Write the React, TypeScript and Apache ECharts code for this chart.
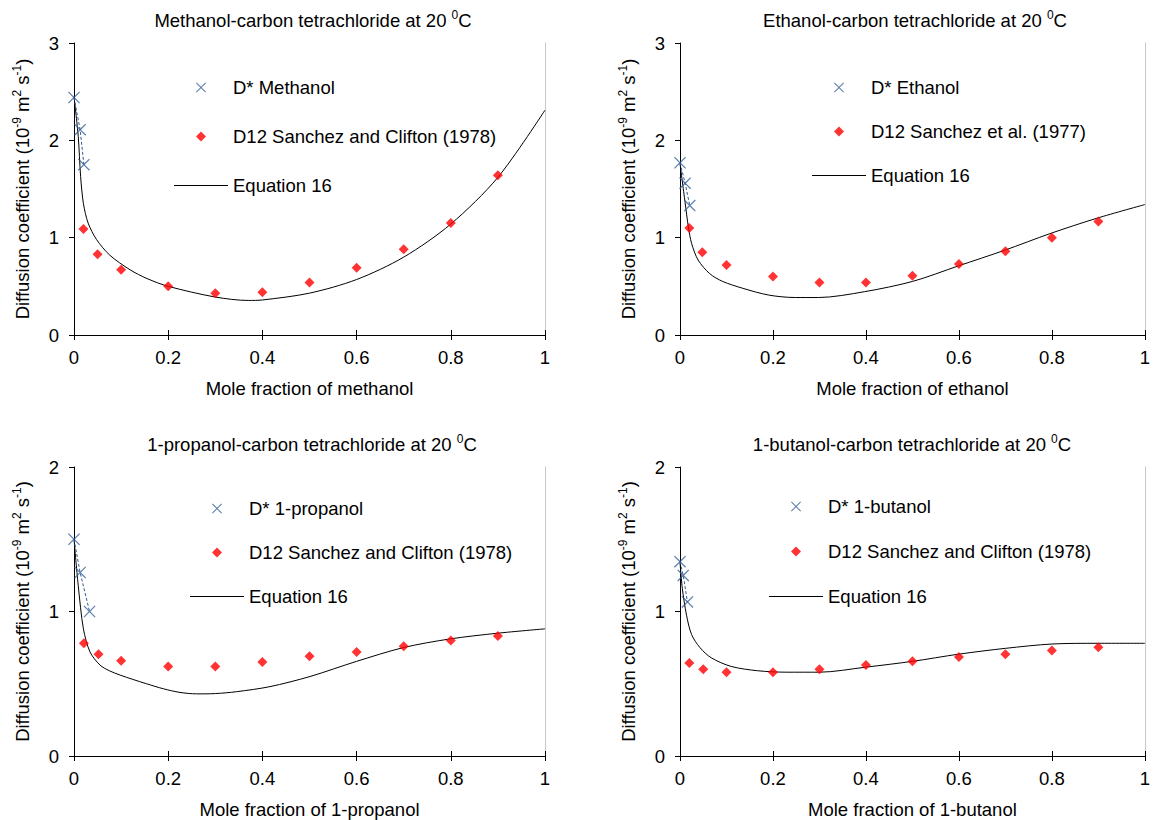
import React, { useEffect, useRef } from "react";
import * as echarts from "echarts";

// ---------- DATA ----------
const xTickValues = [0, 0.2, 0.4, 0.6, 0.8, 1];

// Methanol - CCl4
const methanolDStar = [[0, 2.44], [0.013, 2.11], [0.021, 1.75]];
const methanolD12 = [
  [0.02, 1.09], [0.05, 0.83], [0.1, 0.67], [0.2, 0.5], [0.3, 0.43], [0.4, 0.44],
  [0.5, 0.54], [0.6, 0.69], [0.7, 0.88], [0.8, 1.15], [0.9, 1.64],
];
const methanolEq16 = [
  [0, 2.45], [0.009, 2.04], [0.014, 1.63], [0.02, 1.35], [0.03, 1.15], [0.048, 0.98],
  [0.076, 0.82], [0.119, 0.67], [0.155, 0.58], [0.2, 0.5], [0.3, 0.39], [0.37, 0.355],
  [0.4, 0.36], [0.5, 0.43], [0.6, 0.57], [0.7, 0.8], [0.8, 1.14], [0.9, 1.62], [1, 2.31],
];

// Ethanol - CCl4
const ethanolDStar = [[0, 1.77], [0.011, 1.56], [0.021, 1.33]];
const ethanolD12 = [
  [0.02, 1.1], [0.048, 0.85], [0.1, 0.72], [0.2, 0.6], [0.3, 0.54], [0.4, 0.54],
  [0.5, 0.61], [0.6, 0.73], [0.7, 0.86], [0.8, 1.0], [0.9, 1.165],
];
const ethanolEq16 = [
  [0, 1.76], [0.011, 1.36], [0.018, 1.11], [0.025, 0.94], [0.039, 0.77], [0.064, 0.63],
  [0.092, 0.55], [0.135, 0.48], [0.191, 0.41], [0.248, 0.385], [0.298, 0.385],
  [0.397, 0.445], [0.5, 0.55], [0.599, 0.71], [0.698, 0.87], [0.798, 1.045],
  [0.897, 1.2], [1, 1.34],
];

// 1-propanol - CCl4
const propanolDStar = [[0, 1.5], [0.013, 1.27], [0.033, 1.0]];
const propanolD12 = [
  [0.021, 0.78], [0.052, 0.705], [0.1, 0.66], [0.2, 0.62], [0.3, 0.62], [0.4, 0.65],
  [0.5, 0.69], [0.6, 0.72], [0.7, 0.76], [0.8, 0.8], [0.9, 0.83],
];
const propanolEq16 = [
  [0, 1.5], [0.009, 1.18], [0.02, 0.88], [0.034, 0.72], [0.055, 0.63], [0.075, 0.59],
  [0.098, 0.56], [0.125, 0.53], [0.154, 0.5], [0.19, 0.465], [0.225, 0.44],
  [0.26, 0.43], [0.3, 0.432], [0.345, 0.445], [0.416, 0.48], [0.501, 0.55],
  [0.6, 0.655], [0.699, 0.75], [0.798, 0.81], [0.9, 0.85], [1, 0.88],
];

// 1-butanol - CCl4
const butanolDStar = [[0, 1.345], [0.007, 1.25], [0.016, 1.066]];
const butanolD12 = [
  [0.02, 0.644], [0.05, 0.6], [0.1, 0.58], [0.2, 0.58], [0.3, 0.6], [0.4, 0.63],
  [0.5, 0.655], [0.6, 0.685], [0.7, 0.705], [0.8, 0.73], [0.9, 0.753],
];
const butanolEq16 = [
  [0, 1.34], [0.005, 1.16], [0.014, 0.975], [0.025, 0.84], [0.043, 0.75], [0.067, 0.68],
  [0.11, 0.62], [0.167, 0.59], [0.23, 0.58], [0.3, 0.58], [0.4, 0.615], [0.5, 0.655],
  [0.6, 0.705], [0.7, 0.745], [0.8, 0.775], [0.9, 0.78], [1, 0.78],
];

const panelTitles = [
  "Methanol-carbon tetrachloride at 20 ",
  "Ethanol-carbon tetrachloride at 20 ",
  "1-propanol-carbon tetrachloride at 20 ",
  "1-butanol-carbon tetrachloride at 20 ",
];
const xAxisNames = [
  "Mole fraction of methanol",
  "Mole fraction of ethanol",
  "Mole fraction of 1-propanol",
  "Mole fraction of 1-butanol",
];
const dStarNames = ["D* Methanol", "D* Ethanol", "D* 1-propanol", "D* 1-butanol"];
const d12Names = [
  "D12 Sanchez and Clifton (1978)",
  "D12 Sanchez et al. (1977)",
  "D12 Sanchez and Clifton (1978)",
  "D12 Sanchez and Clifton (1978)",
];
const eqName = "Equation 16";
const yMaxValues = [3, 3, 2, 2];

const dStarData = [methanolDStar, ethanolDStar, propanolDStar, butanolDStar];
const d12Data = [methanolD12, ethanolD12, propanolD12, butanolD12];
const eqData = [methanolEq16, ethanolEq16, propanolEq16, butanolEq16];

// ---------- LAYOUT / STYLE ----------
const FONT = '"Liberation Sans", Arial, Helvetica, sans-serif';
const FS = 18.5;
const grids = [
  { left: 74, top: 43, width: 471, height: 292 },
  { left: 680, top: 43, width: 470, height: 292 },
  { left: 74, top: 467, width: 471, height: 292 },
  { left: 680, top: 467, width: 470, height: 292 },
];
const titlePos = [
  { cx: 313, top: 9 },
  { cx: 915, top: 9 },
  { cx: 312, top: 433 },
  { cx: 912, top: 433 },
];
const legendPos = [
  { left: 174, top: 78, gap: 30 },
  { left: 812, top: 78, gap: 25 },
  { left: 190, top: 499, gap: 25 },
  { left: 769, top: 497, gap: 26 },
];
const CROSS =
  "path://M0,7L7,0L50,43L93,0L100,7L57,50L100,93L93,100L50,57L7,100L0,93L43,50Z";
const DIAMOND_ICON = "path://M50,0L100,50L50,100L0,50Z";
const LINE_ICON = "path://M0,0L540,0L540,10L0,10Z";
const BLUE = "#2f5b95";
const RED = "#ff0000";

const richStyles = {
  a: { fontFamily: FONT, fontSize: FS, lineHeight: 22, color: "#000" },
  s: { fontFamily: FONT, fontSize: 12, lineHeight: 13, verticalAlign: "top", color: "#000" },
};

function buildOption() {
  const title: any[] = [];
  const xAxis: any[] = [];
  const yAxis: any[] = [];
  const series: any[] = [];
  const legend: any[] = [];

  for (let i = 0; i < 4; i++) {
    title.push({
      text: `{a|${panelTitles[i]}}{s|0}{a|C}`,
      left: titlePos[i].cx,
      top: titlePos[i].top,
      textAlign: "center",
      padding: 0,
      textStyle: {
        fontFamily: FONT,
        fontWeight: "normal",
        fontSize: FS,
        color: "#000",
        rich: richStyles,
      },
    });

    const common = { gridIndex: i, type: "value", min: 0, max: 1, interval: 0.2 };
    xAxis.push({
      ...common,
      name: xAxisNames[i],
      nameLocation: "middle",
      nameGap: 44,
      nameTextStyle: { fontFamily: FONT, fontSize: FS, color: "#000" },
      axisLine: { show: true, onZero: false, lineStyle: { color: "#000", width: 1 } },
      axisTick: { show: true, inside: false, length: 5, lineStyle: { color: "#000" } },
      axisLabel: {
        fontFamily: FONT, fontSize: FS, color: "#000", margin: 13,
        customValues: xTickValues,
        formatter: (v: number) => String(Math.round(v * 10) / 10),
      },
      splitLine: { show: false },
    });
    xAxis.push({
      ...common,
      position: "bottom",
      axisLine: { show: false, onZero: false },
      axisTick: { show: true, inside: true, length: 5, lineStyle: { color: "#000" } },
      axisLabel: { show: false },
      splitLine: { show: false },
    });

    yAxis.push({
      gridIndex: i,
      type: "value",
      min: 0,
      max: yMaxValues[i],
      interval: 1,
      position: "left",
      name: "{a|Diffusion coefficient (10}{s|-9}{a| m}{s|2}{a| s}{s|-1}{a|)}",
      nameLocation: "middle",
      nameGap: 41,
      nameTextStyle: {
        fontFamily: FONT,
        fontSize: FS,
        color: "#000",
        rich: richStyles,
      },
      axisLine: { show: true, onZero: false, lineStyle: { color: "#000", width: 1 } },
      axisTick: { show: true, inside: false, length: 5, lineStyle: { color: "#000" } },
      axisLabel: { fontFamily: FONT, fontSize: FS, color: "#000", margin: 15 },
      splitLine: { show: false },
    });
    yAxis.push({
      gridIndex: i,
      type: "value",
      min: 0,
      max: yMaxValues[i],
      interval: 1,
      position: "right",
      axisLine: { show: true, onZero: false, lineStyle: { color: "#c8c8c8", width: 1 } },
      axisTick: { show: false },
      axisLabel: { show: false },
      splitLine: { show: false },
    });

    const xi = 2 * i;
    const yi = 2 * i;
    series.push({
      type: "line",
      name: eqName,
      xAxisIndex: xi,
      yAxisIndex: yi,
      data: eqData[i],
      smooth: 0.3,
      symbol: "none",
      color: "#000",
      lineStyle: { color: "#000", width: 1 },
      z: 2,
    });
    series.push({
      type: "line",
      name: `link-${i}`,
      xAxisIndex: xi,
      yAxisIndex: yi,
      data: dStarData[i],
      symbol: "none",
      color: BLUE,
      lineStyle: { color: BLUE, width: 1, type: [3, 2] },
      z: 3,
    });
    series.push({
      type: "scatter",
      name: d12Names[i],
      xAxisIndex: xi,
      yAxisIndex: yi,
      data: d12Data[i],
      symbol: "diamond",
      symbolSize: 10,
      color: RED,
      itemStyle: { color: RED },
      z: 4,
    });
    series.push({
      type: "scatter",
      name: dStarNames[i],
      xAxisIndex: xi,
      yAxisIndex: yi,
      data: dStarData[i],
      symbol: CROSS,
      symbolSize: 12,
      color: BLUE,
      itemStyle: { color: BLUE },
      z: 5,
    });

    legend.push({
      orient: "vertical",
      left: legendPos[i].left,
      top: legendPos[i].top,
      padding: 0,
      itemGap: legendPos[i].gap,
      itemWidth: 54,
      itemHeight: 10,
      selectedMode: false,
      textStyle: { fontFamily: FONT, fontSize: FS, color: "#000" },
      data: [
        { name: dStarNames[i], icon: CROSS, itemStyle: { color: BLUE } },
        { name: d12Names[i], icon: DIAMOND_ICON, itemStyle: { color: RED } },
        { name: eqName, icon: LINE_ICON, itemStyle: { color: "#000" } },
      ],
    });
  }

  return {
    animation: false,
    backgroundColor: "#fff",
    textStyle: { fontFamily: FONT },
    title,
    legend,
    grid: grids.map((g) => ({ ...g, containLabel: false })),
    xAxis,
    yAxis,
    series,
  };
}

export default function App() {
  const ref = useRef<HTMLDivElement>(null);
  useEffect(() => {
    if (!ref.current) return;
    const chart = echarts.init(ref.current, undefined, { renderer: "svg" });
    chart.setOption(buildOption() as any);
    return () => chart.dispose();
  }, []);
  return (
    <div
      ref={ref}
      style={{ position: "fixed", left: 0, top: 0, width: 1153, height: 820, background: "#fff" }}
    />
  );
}
